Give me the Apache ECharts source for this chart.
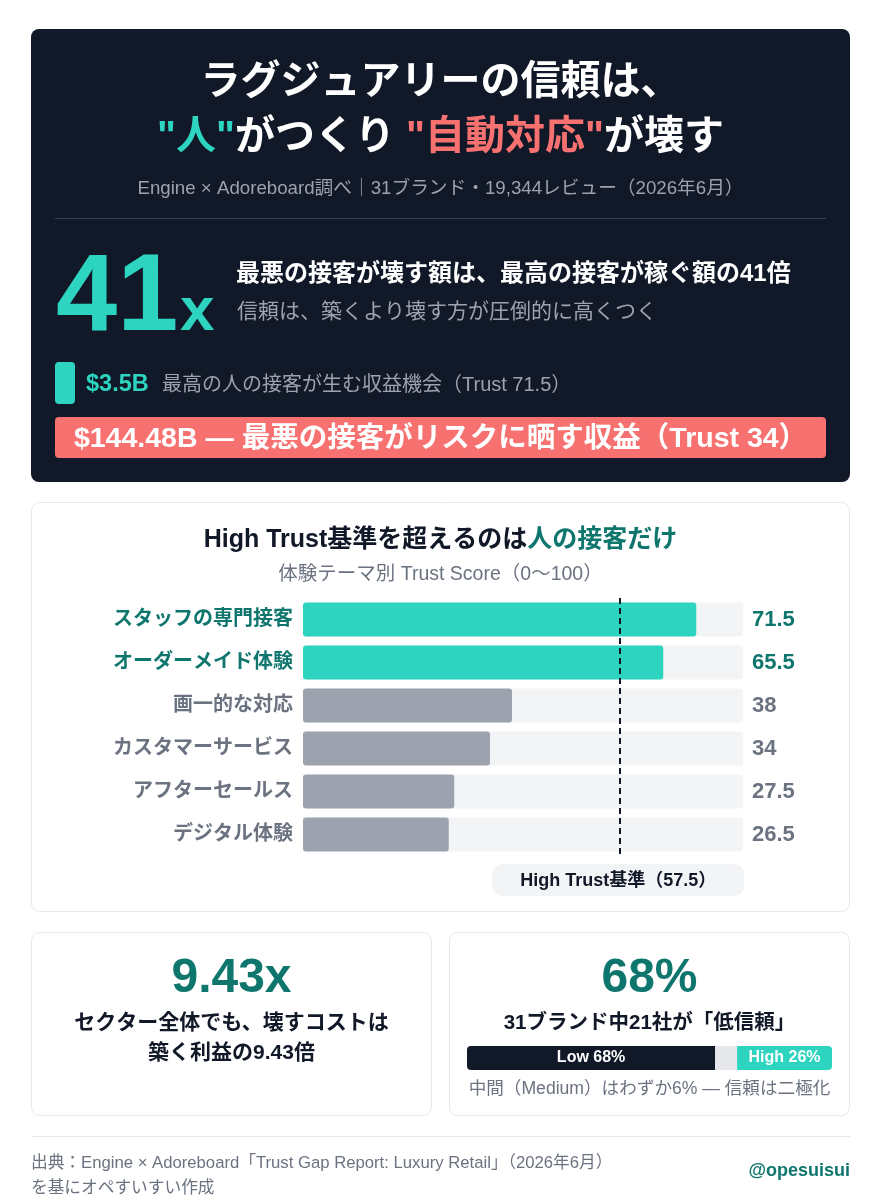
<!DOCTYPE html>
<html>
<head>
<meta charset="utf-8">
<script src="https://cdn.jsdelivr.net/npm/echarts@6/dist/echarts.min.js"></script>
<style>
html,body{margin:0;padding:0;background:#ffffff;}
#chart{width:881px;height:1200px;}
</style>
</head>
<body>
<div id="chart"></div>
<script>
// ---- data ----
const categories = ['スタッフの専門接客', 'オーダーメイド体験', '画一的な対応', 'カスタマーサービス', 'アフターセールス', 'デジタル体験'];
const scores = [71.5, 65.5, 38, 34, 27.5, 26.5];
const highTrustThreshold = 57.5;
const distLabels = ['Low', 'Medium', 'High'];
const distValues = [68, 6, 26];

const FONT = '"Liberation Sans","Noto Sans CJK JP",sans-serif';
const TEAL = '#2dd4bf', TEAL_D = '#0f766e', RED = '#f87171', DARK = '#111827', GRAY = '#6b7280', GRAY_L = '#9ca3af';

const isHigh = scores.map(s => s >= highTrustThreshold);

const chart = echarts.init(document.getElementById('chart'), null, {renderer: 'canvas'});

function txt(text, x, y, size, color, opt) {
  opt = opt || {};
  return {
    type: 'text', z: 10,
    style: Object.assign({
      text: text, x: x, y: y,
      font: (opt.bold ? 'bold ' : '') + size + 'px ' + FONT,
      fill: color,
      textAlign: opt.align || 'left', align: opt.align || 'left',
      textVerticalAlign: 'middle', verticalAlign: 'middle'
    }, opt.extra || {})
  };
}

const option = {
  animation: false,
  textStyle: {fontFamily: FONT},
  grid: [
    {left: 303, top: 598, width: 440, height: 258, containLabel: false},
    {left: 467, top: 1046, width: 365, height: 24, containLabel: false}
  ],
  xAxis: [
    {gridIndex: 0, type: 'value', min: 0, max: 80, show: false},
    {gridIndex: 1, type: 'value', min: 0, max: 100, show: false}
  ],
  yAxis: [
    {
      gridIndex: 0, type: 'category', data: categories, inverse: true,
      axisLine: {show: false}, axisTick: {show: false},
      axisLabel: {
        margin: 10,
        formatter: (v, i) => (isHigh[i] ? '{h|' : '{n|') + v + '}',
        rich: {
          h: {color: TEAL_D, fontSize: 20, fontWeight: 'bold', fontFamily: FONT},
          n: {color: GRAY, fontSize: 20, fontWeight: 'bold', fontFamily: FONT}
        }
      }
    },
    {
      gridIndex: 0, type: 'category', data: scores.map(String), inverse: true, position: 'right',
      axisLine: {show: false}, axisTick: {show: false},
      axisLabel: {
        margin: 9,
        formatter: (v, i) => (isHigh[i] ? '{h|' : '{n|') + v + '}',
        rich: {
          h: {color: TEAL_D, fontSize: 22, fontWeight: 'bold', fontFamily: FONT},
          n: {color: GRAY, fontSize: 22, fontWeight: 'bold', fontFamily: FONT}
        }
      }
    },
    {gridIndex: 1, type: 'category', data: ['dist'], show: false}
  ],
  series: [
    {
      type: 'bar', xAxisIndex: 0, yAxisIndex: 0, barWidth: 34,
      showBackground: true,
      backgroundStyle: {color: '#f3f4f6', borderRadius: 3},
      data: scores.map((s, i) => ({value: s, itemStyle: {color: isHigh[i] ? TEAL : GRAY_L, borderRadius: 3}})),
      markLine: {
        silent: true, symbol: 'none',
        label: {show: false},
        lineStyle: {color: DARK, type: [6, 4], width: 2},
        data: [{xAxis: highTrustThreshold}]
      }
    },
    {
      type: 'bar', name: distLabels[0], stack: 'd', xAxisIndex: 1, yAxisIndex: 2, barWidth: 24,
      data: [distValues[0]],
      itemStyle: {color: DARK, borderRadius: [4, 0, 0, 4]},
      label: {show: true, position: 'inside', formatter: p => p.seriesName + ' ' + p.value + '%', color: '#fff', fontSize: 16, fontWeight: 'bold', fontFamily: FONT}
    },
    {
      type: 'bar', name: distLabels[1], stack: 'd', xAxisIndex: 1, yAxisIndex: 2, barWidth: 24,
      data: [distValues[1]],
      itemStyle: {color: '#e5e7eb'},
      label: {show: false}
    },
    {
      type: 'bar', name: distLabels[2], stack: 'd', xAxisIndex: 1, yAxisIndex: 2, barWidth: 24,
      data: [distValues[2]],
      itemStyle: {color: TEAL, borderRadius: [0, 4, 4, 0]},
      label: {show: true, position: 'inside', formatter: p => p.seriesName + ' ' + p.value + '%', color: '#fff', fontSize: 16, fontWeight: 'bold', fontFamily: FONT}
    }
  ]
};
chart.setOption(option);

const lineX = chart.convertToPixel({xAxisIndex: 0}, highTrustThreshold);

const graphics = [
  // dark header card
  {type: 'rect', z: 0, shape: {x: 31, y: 29, width: 819, height: 453, r: 8}, style: {fill: DARK}},
  txt('ラグジュアリーの信頼は、', 440.5, 83, 40, '#ffffff', {bold: true, align: 'center'}),
  {
    type: 'text', z: 10,
    style: {
      text: '{t|"人"}{w|がつくり }{r|"自動対応"}{w|が壊す}',
      x: 440.5, y: 138, textAlign: 'center', align: 'center', textVerticalAlign: 'middle', verticalAlign: 'middle',
      font: 'bold 40px ' + FONT,
      rich: {
        t: {fill: TEAL, color: TEAL, font: 'bold 40px ' + FONT},
        w: {fill: '#ffffff', color: '#ffffff', font: 'bold 40px ' + FONT},
        r: {fill: RED, color: RED, font: 'bold 40px ' + FONT}
      }
    }
  },
  txt('Engine × Adoreboard調べ｜31ブランド・19,344レビュー（2026年6月）', 440.5, 189, 18.7, GRAY_L, {align: 'center'}),
  {type: 'line', z: 5, shape: {x1: 55, y1: 218.5, x2: 826, y2: 218.5}, style: {stroke: '#374151', lineWidth: 1}},
  txt('41', 56, 300, 110, TEAL, {bold: true}),
  txt('x', 180, 313, 62, TEAL, {bold: true}),
  txt('最悪の接客が壊す額は、最高の接客が稼ぐ額の41倍', 236, 274, 24, '#ffffff', {bold: true}),
  txt('信頼は、築くより壊す方が圧倒的に高くつく', 237, 312, 21, GRAY_L),
  {type: 'rect', z: 5, shape: {x: 55, y: 362, width: 20, height: 42, r: 4}, style: {fill: TEAL}},
  txt('$3.5B', 86, 385, 23.5, TEAL, {bold: true}),
  txt('最高の人の接客が生む収益機会（Trust 71.5）', 162, 385, 20, GRAY_L),
  {type: 'rect', z: 5, shape: {x: 55, y: 417, width: 771, height: 41, r: 4}, style: {fill: RED}},
  txt('$144.48B — 最悪の接客がリスクに晒す収益（Trust 34）', 440.5, 439, 28.5, '#ffffff', {bold: true, align: 'center'}),

  // chart card
  {type: 'rect', z: 0, shape: {x: 31.5, y: 502.5, width: 818, height: 409, r: 8}, style: {fill: '#ffffff', stroke: '#e5e7eb', lineWidth: 1}},
  {
    type: 'text', z: 10,
    style: {
      text: '{d|High Trust基準を超えるのは}{g|人の接客だけ}',
      x: 440.5, y: 540, textAlign: 'center', align: 'center', textVerticalAlign: 'middle', verticalAlign: 'middle',
      font: 'bold 25px ' + FONT,
      rich: {
        d: {fill: DARK, color: DARK, font: 'bold 25px ' + FONT},
        g: {fill: TEAL_D, color: TEAL_D, font: 'bold 25px ' + FONT}
      }
    }
  },
  txt('体験テーマ別 Trust Score（0〜100）', 440.5, 575, 19.5, GRAY, {align: 'center'}),
  {type: 'rect', z: 5, shape: {x: lineX - 127, y: 864, width: 252, height: 32, r: 10}, style: {fill: '#f3f4f6'}},
  txt('High Trust基準（' + highTrustThreshold + '）', lineX - 1, 881, 18, DARK, {bold: true, align: 'center'}),

  // bottom cards
  {type: 'rect', z: 0, shape: {x: 31.5, y: 932.5, width: 400, height: 183, r: 8}, style: {fill: '#ffffff', stroke: '#e5e7eb', lineWidth: 1}},
  {type: 'rect', z: 0, shape: {x: 449.5, y: 932.5, width: 400, height: 183, r: 8}, style: {fill: '#ffffff', stroke: '#e5e7eb', lineWidth: 1}},
  txt('9.43x', 231.5, 979, 48, TEAL_D, {bold: true, align: 'center'}),
  txt('セクター全体でも、壊すコストは', 231.5, 1023, 21, DARK, {bold: true, align: 'center'}),
  txt('築く利益の9.43倍', 231.5, 1053, 21, DARK, {bold: true, align: 'center'}),
  txt(distValues[0] + '%', 649.5, 979, 48, TEAL_D, {bold: true, align: 'center'}),
  txt('31ブランド中21社が「低信頼」', 649.5, 1023, 20.5, DARK, {bold: true, align: 'center'}),
  txt('中間（Medium）はわずか' + distValues[1] + '% — 信頼は二極化', 649.5, 1089, 17.6, GRAY, {align: 'center'}),

  // footer
  {type: 'line', z: 5, shape: {x1: 31, y1: 1136.5, x2: 850, y2: 1136.5}, style: {stroke: '#e5e7eb', lineWidth: 1}},
  txt('出典：Engine × Adoreboard「Trust Gap Report: Luxury Retail」（2026年6月）', 31, 1163, 16.7, GRAY),
  txt('を基にオペすいすい作成', 31, 1188, 16.7, GRAY),
  txt('@opesuisui', 850, 1171, 18, TEAL_D, {bold: true, align: 'right'})
];

chart.setOption({graphic: {elements: graphics}});
</script>
</body>
</html>
